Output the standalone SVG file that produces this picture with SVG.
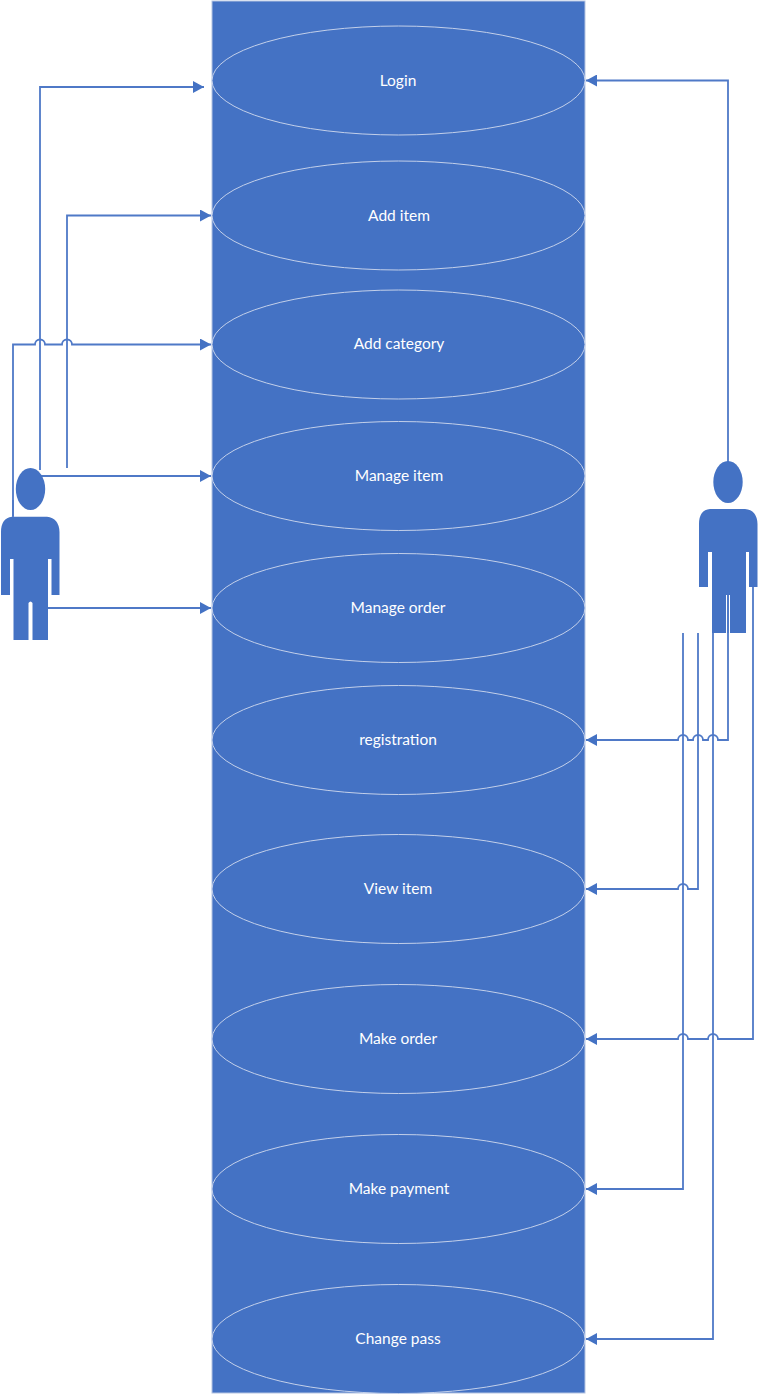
<svg xmlns="http://www.w3.org/2000/svg" width="758" height="1394" viewBox="0 0 758 1394">
<defs>
<marker id="arrow" markerUnits="userSpaceOnUse" markerWidth="11" markerHeight="12" refX="11" refY="6" orient="auto"><path d="M0 0L11 6L0 12Z" fill="#4472c4"/></marker>
</defs>
<style>
.uc{fill:#4472c4;stroke:#c3d0ea;stroke-width:1}
.fig{fill:#4472c4}
.c{fill:none;stroke:#4f79c7;stroke-width:1.8;marker-end:url(#arrow)}
.n{fill:none;stroke:#4f79c7;stroke-width:1.8}
text{font-family:"Lato","Liberation Sans",sans-serif;font-size:15.5px;fill:#fff;text-anchor:middle}
</style>
<rect id="boundary" x="212" y="1" width="373" height="1392" fill="#4472c4" stroke="#b4c4e2" stroke-width="1"/>
<g id="uc-login"><ellipse class="uc" cx="398.500" cy="80.500" rx="186.500" ry="54.500"/><text x="398" y="86">Login</text></g>
<g id="uc-add-item"><ellipse class="uc" cx="398.500" cy="215.500" rx="186.500" ry="54.500"/><text x="399" y="221">Add item</text></g>
<g id="uc-add-category"><ellipse class="uc" cx="398.500" cy="344.500" rx="186.500" ry="54.500"/><text x="399" y="349">Add category</text></g>
<g id="uc-manage-item"><ellipse class="uc" cx="398.500" cy="476" rx="186.500" ry="54.500"/><text x="399" y="481">Manage item</text></g>
<g id="uc-manage-order"><ellipse class="uc" cx="398.500" cy="608" rx="186.500" ry="54.500"/><text x="398" y="613">Manage order</text></g>
<g id="uc-registration"><ellipse class="uc" cx="398.500" cy="740" rx="186.500" ry="54.500"/><text x="398" y="745">registration</text></g>
<g id="uc-view-item"><ellipse class="uc" cx="398.500" cy="889" rx="186.500" ry="54.500"/><text x="398" y="894">View item</text></g>
<g id="uc-make-order"><ellipse class="uc" cx="398.500" cy="1039" rx="186.500" ry="54.500"/><text x="398" y="1044">Make order</text></g>
<g id="uc-make-payment"><ellipse class="uc" cx="398.500" cy="1189" rx="186.500" ry="54.500"/><text x="399" y="1194">Make payment</text></g>
<g id="uc-change-pass"><ellipse class="uc" cx="398.500" cy="1339" rx="186.500" ry="54.500"/><text x="398" y="1344">Change pass</text></g>
<g id="connectors">
<path class="c" d="M40 470V87H204"/>
<path class="c" d="M67 468V215.500H211"/>
<path class="c" d="M13 518V344.500H35a5 5 0 0 1 10 0H62a5 5 0 0 1 10 0H211"/>
<path class="c" d="M40 476H211"/>
<path class="c" d="M46 608H211"/>
<path class="c" d="M728 462V80.500H586"/>
<path class="c" d="M728 595V740H718a5 5 0 0 0 -10 0H703a5 5 0 0 0 -10 0H688a5 5 0 0 0 -10 0H586"/>
<path class="c" d="M698 633V889H688a5 5 0 0 0 -10 0H586"/>
<path class="c" d="M753 587V1039H718a5 5 0 0 0 -10 0H688a5 5 0 0 0 -10 0H586"/>
<path class="c" d="M683 633V1189H586"/>
<path class="c" d="M713 633V1339H586"/>
</g>
<g id="actor-left">
<ellipse class="fig" cx="30.500" cy="489" rx="14.700" ry="21"/>
<path class="fig" d="M12 516.700H47Q59 518 59.500 532V595H51.500V559H48V640H32.500V603Q30.500 600 28.500 603V640H13.500V559H10V595H1V532Q1 518 12 516.700Z"/>
<path class="n" d="M13 500V516"/>
</g>
<g id="actor-right">
<ellipse class="fig" cx="728" cy="482" rx="14.700" ry="21"/>
<path class="fig" d="M710 509H745Q757 510 757.500 524V587H749V552H746V633H730V595H726V633H712V552H708V587H699V524Q699 510 710 509Z"/>
<path class="n" d="M728 595V633"/>
</g>
</svg>
